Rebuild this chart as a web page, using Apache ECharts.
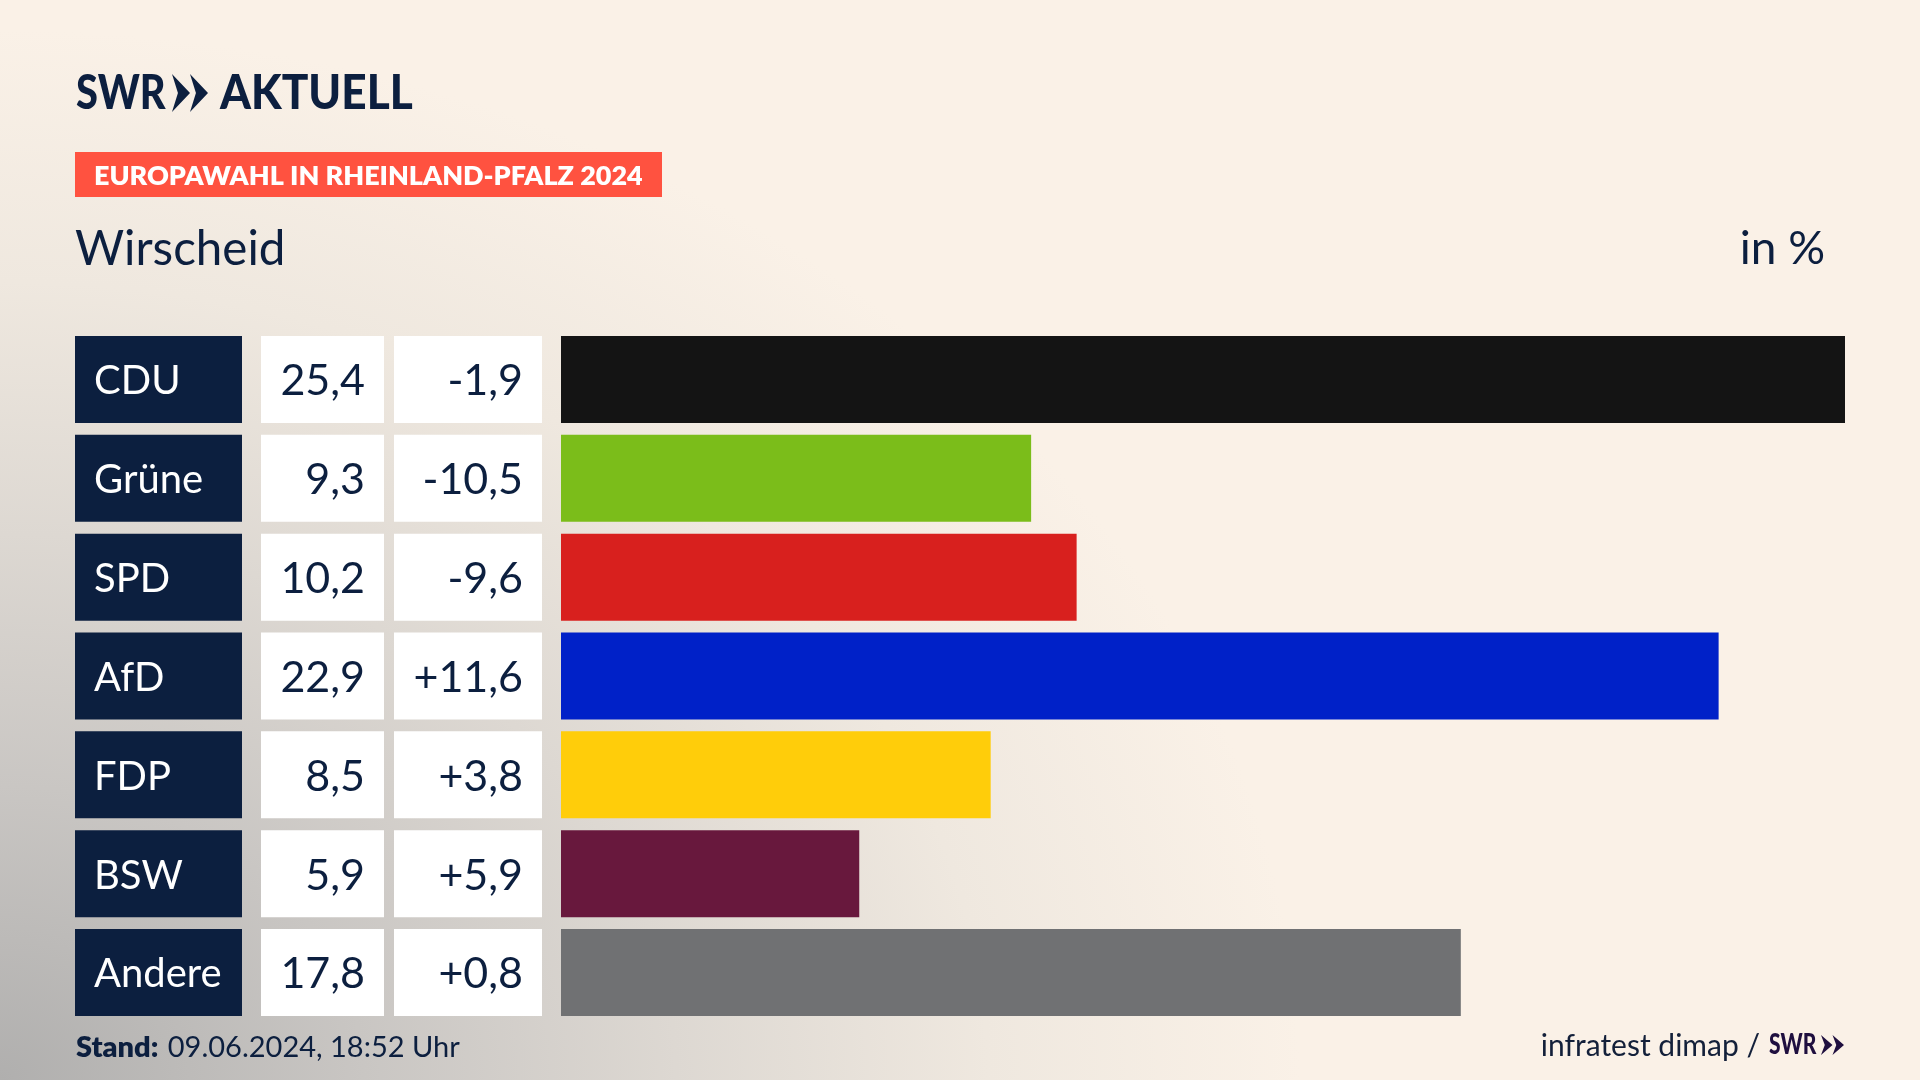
<!DOCTYPE html>
<html lang="de">
<head>
    <meta charset="UTF-8">
    <title>Europawahl in Rheinland-Pfalz 2024 - Wirscheid</title>
    <script src="https://cdn.jsdelivr.net/npm/echarts@6/dist/echarts.min.js"></script>
    <style>
        html, body { margin: 0; padding: 0; }
        body {
            width: 1920px;
            height: 1080px;
            overflow: hidden;
            background-color: #faf1e7;
            background-image: radial-gradient(ellipse 1300px 1050px at 0 1080px,
                #b0afae 0%, #c9c6c3 28%, #ddd8d2 52%, #efe8df 76%, #faf1e7 100%);
        }
        #container { width: 1920px; height: 1080px; }
    </style>
</head>
<body>
<div id="container"></div>
<script>
    var parties = ['CDU', 'Grüne', 'SPD', 'AfD', 'FDP', 'BSW', 'Andere'];
    var shares = [25.4, 9.3, 10.2, 22.9, 8.5, 5.9, 17.8];
    var changes = [-1.9, -10.5, -9.6, 11.6, 3.8, 5.9, 0.8];
    var partyColors = ['#141414', '#7bbd1a', '#d8201e', '#0021c8', '#ffcd0a', '#68183d', '#707173'];

    var navy = '#0c1f3f';
    var font = 'Lato';

    function comma(v) {
        return Math.abs(v).toFixed(1).replace('.', ',');
    }

    function signed(v) {
        return (v < 0 ? '-' : '+') + comma(v);
    }

    function chevrons(x, y, w, h, color) {
        // the two arrows of the SWR logo
        var cw = w * 0.5;
        var step = w - cw;
        var list = [];
        for (var i = 0; i < 2; i++) {
            var x0 = x + i * step;
            list.push({
                type: 'polygon',
                shape: {
                    points: [
                        [x0, y], [x0 + cw, y + h / 2], [x0, y + h],
                        [x0 + cw * 0.33, y + h / 2]
                    ]
                },
                style: { fill: color }
            });
        }
        return list;
    }

    // baseline is the y of the letters' foot, the 0.35 brings it to the text box middle
    function label(x, baseline, text, size, weight, color, align, scaleX) {
        return {
            type: 'text',
            x: x,
            y: baseline - size * 0.35,
            scaleX: scaleX || 1,
            style: {
                text: text,
                fill: color,
                font: weight + ' ' + size + 'px ' + font,
                align: align || 'left',
                verticalAlign: 'middle'
            }
        };
    }

    var graphics = [
        { type: 'rect', shape: { x: 75, y: 152, width: 587, height: 45 }, style: { fill: '#ff5240' } },
        label(76, 110, 'SWR', 48, 900, navy, 'left', 0.83),
        label(220, 110, 'AKTUELL', 48, 900, navy, 'left', 0.92),
        label(94, 186, 'EUROPAWAHL IN RHEINLAND-PFALZ 2024', 27, 800, '#ffffff', 'left', 0.997),
        label(75, 266, 'Wirscheid', 47.5, 400, navy),
        label(1825, 265, 'in %', 46, 400, navy, 'right'),
        {
            type: 'text',
            x: 76,
            y: 1048,
            style: {
                text: '{b|Stand:} {r|09.06.2024, 18:52 Uhr}',
                verticalAlign: 'middle',
                rich: {
                    b: { font: '800 29px ' + font, fill: navy },
                    r: { font: '400 29px ' + font, fill: navy, padding: [0, 0, 0, 6] }
                }
            }
        },
        label(1760, 1057, 'infratest dimap /', 30, 400, '#13203a', 'right'),
        label(1769, 1055, 'SWR', 28, 900, '#1f0f3f', 'left', 0.75)
    ].concat(chevrons(172, 74, 36, 38, navy)).concat(chevrons(1821, 1035, 23, 20, '#1f0f3f'));

    var options = {
        animation: false,
        backgroundColor: 'transparent',
        textStyle: { fontFamily: font },
        grid: { left: 561, top: 330, width: 1284, height: 692 },
        xAxis: { type: 'value', min: 0, max: 25.4, show: false },
        yAxis: {
            type: 'category',
            inverse: true,
            data: parties,
            axisLine: { show: false },
            axisTick: { show: false },
            axisLabel: {
                interval: 0,
                margin: 19,
                formatter: function (value, index) {
                    return '{name|' + value + '}{gapA|}{share|' + comma(shares[index]) + '}{gapB|}{change|' + signed(changes[index]) + '}';
                },
                rich: {
                    name: {
                        width: 148, height: 83, lineHeight: 83, padding: [4, 0, 0, 19],
                        backgroundColor: navy, color: '#ffffff', fontSize: 40, align: 'left', fontFamily: font
                    },
                    gapA: { width: 19, height: 87 },
                    share: {
                        width: 104, height: 83, lineHeight: 83, padding: [4, 19, 0, 0],
                        backgroundColor: '#ffffff', color: navy, fontSize: 43, align: 'right', fontFamily: font
                    },
                    gapB: { width: 10, height: 87 },
                    change: {
                        width: 129, height: 83, lineHeight: 83, padding: [4, 19, 0, 0],
                        backgroundColor: '#ffffff', color: navy, fontSize: 43, align: 'right', fontFamily: font
                    }
                }
            }
        },
        series: [
            {
                type: 'bar',
                barWidth: 87,
                data: shares,
                itemStyle: {
                    color: function (p) {
                        return partyColors[p.dataIndex];
                    }
                }
            }
        ],
        graphic: graphics
    };

    var myChart = echarts.init(document.getElementById('container'));
    myChart.setOption(options);
</script>
</body>
</html>
